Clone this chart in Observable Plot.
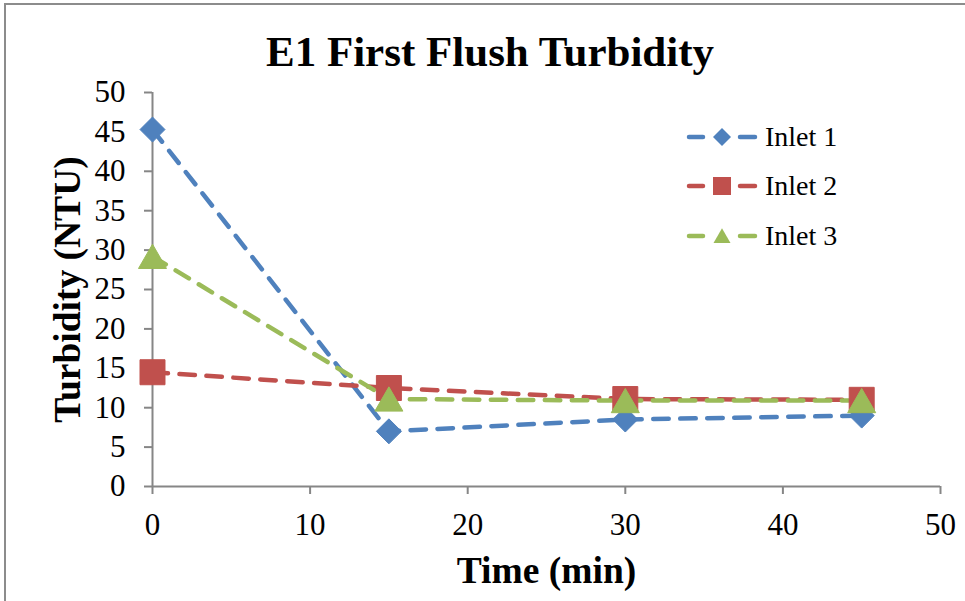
<!DOCTYPE html>
<html><head><meta charset="utf-8">
<script src="https://cdn.jsdelivr.net/npm/d3@7"></script>
<script src="https://cdn.jsdelivr.net/npm/@observablehq/plot@0.6"></script>
<style>
body{margin:0;background:#fff;}
#wrap{position:relative;width:965px;height:601px;overflow:hidden;font-family:"Liberation Serif",serif;background:#fff;}
#frame{position:absolute;left:4px;top:3px;width:2000px;height:2000px;border-left:2px solid #8c8c8c;border-top:2px solid #8c8c8c;pointer-events:none;}
#title{height:40px;padding-top:32px;line-height:40px;font-size:43px;font-weight:bold;text-align:center;padding-left:15px;color:#000;font-family:"Liberation Serif",serif;}
#legend{position:absolute;left:685px;top:112px;}
.row{display:flex;align-items:center;height:49.5px;font-size:28px;color:#000;font-family:"Liberation Serif",serif;}
#chart svg text{font-family:"Liberation Serif",serif !important;}
</style></head><body>
<div id="wrap"><div id="frame"></div><div id="title">E1 First Flush Turbidity</div><div id="chart"></div><div id="legend"></div></div>
<script>
const times = [0, 15, 30, 45];
const seriesNames = ["Inlet 1", "Inlet 2", "Inlet 3"];
const inlet1 = [45.3, 7.0, 8.5, 9.0];
const inlet2 = [14.5, 12.5, 11.1, 11.0];
const inlet3 = [29.2, 11.1, 10.9, 10.9];
const xTicks = [0, 10, 20, 30, 40, 50];
const yTicks = [0, 5, 10, 15, 20, 25, 30, 35, 40, 45, 50];
const colors = ["#4F81BD", "#C0504D", "#9BBB59"];
const symbols = ["diamond2", "square", "triangle"];
const xLabel = "Time (min)";
const yLabel = "Turbidity (NTU)";

const seriesValues = [inlet1, inlet2, inlet3];
const data = seriesNames.map((name, s) => times.map((t, i) => ({series: name, time: t, value: seriesValues[s][i]})));

const markerR = [11.26, 14.1, 10.4];
const markerDy = [0, 0, 4];

const axisColor = "#868686";
const lineMarks = data.map((d, s) => Plot.line(d, {
  x: "time", y: "value", stroke: colors[s], strokeWidth: 4.5,
  strokeDasharray: "15.5,11.5", strokeLinecap: "round", strokeLinejoin: "round"
}));
const dotMarks = data.map((d, s) => Plot.dot(d, {
  x: "time", y: "value", symbol: symbols[s], r: markerR[s], dy: markerDy[s],
  fill: colors[s], stroke: colors[s], strokeWidth: 1
}));

const chart = Plot.plot({
  width: 965,
  height: 529,
  marginTop: 20,
  marginBottom: 115,
  marginLeft: 152,
  marginRight: 25,
  style: {fontFamily: "'Liberation Serif', serif", background: "transparent", color: "#000"},
  x: {domain: [0, 50]},
  y: {domain: [0, 50]},
  marks: [
    Plot.axisX({ticks: xTicks, tickSize: 8, tickPadding: 18, fontSize: 31, stroke: axisColor, strokeWidth: 2, fill: "#000", label: null}),
    Plot.axisY({ticks: yTicks, tickSize: 8, tickPadding: 19, fontSize: 31, stroke: axisColor, strokeWidth: 2, fill: "#000", label: null}),
    Plot.ruleY([0], {stroke: axisColor, strokeWidth: 2}),
    Plot.ruleX([0], {stroke: axisColor, strokeWidth: 2}),
    Plot.text([xLabel], {text: d => d, frameAnchor: "bottom", lineAnchor: "middle", dy: 84, fontSize: 37.5, fontWeight: "bold", fill: "#000"}),
    Plot.text([yLabel], {text: d => d, frameAnchor: "left", textAnchor: "middle", lineAnchor: "middle", dx: -85, rotate: -90, fontSize: 37.5, fontWeight: "bold", fill: "#000"}),
    ...lineMarks,
    ...dotMarks
  ]
});
document.getElementById("chart").appendChild(chart);

// legend
const legendSizes = [206, 324, 125];
const legendSym = [d3.symbolDiamond2, d3.symbolSquare, d3.symbolTriangle];
const legend = d3.select("#legend");
seriesNames.forEach((name, s) => {
  const row = legend.append("div").attr("class", "row");
  const svg = row.append("svg").attr("width", 80).attr("height", 40);
  [[4, 18], [55, 70]].forEach(([a, b]) => {
    svg.append("line").attr("x1", a).attr("x2", b).attr("y1", 20).attr("y2", 20)
      .attr("stroke", colors[s]).attr("stroke-width", 4.5).attr("stroke-linecap", "round");
  });
  svg.append("path").attr("d", d3.symbol(legendSym[s], legendSizes[s])())
    .attr("transform", `translate(37,${s === 2 ? 22 : 20})`).attr("fill", colors[s]);
  row.append("span").text(name);
});
</script>
</body></html>
